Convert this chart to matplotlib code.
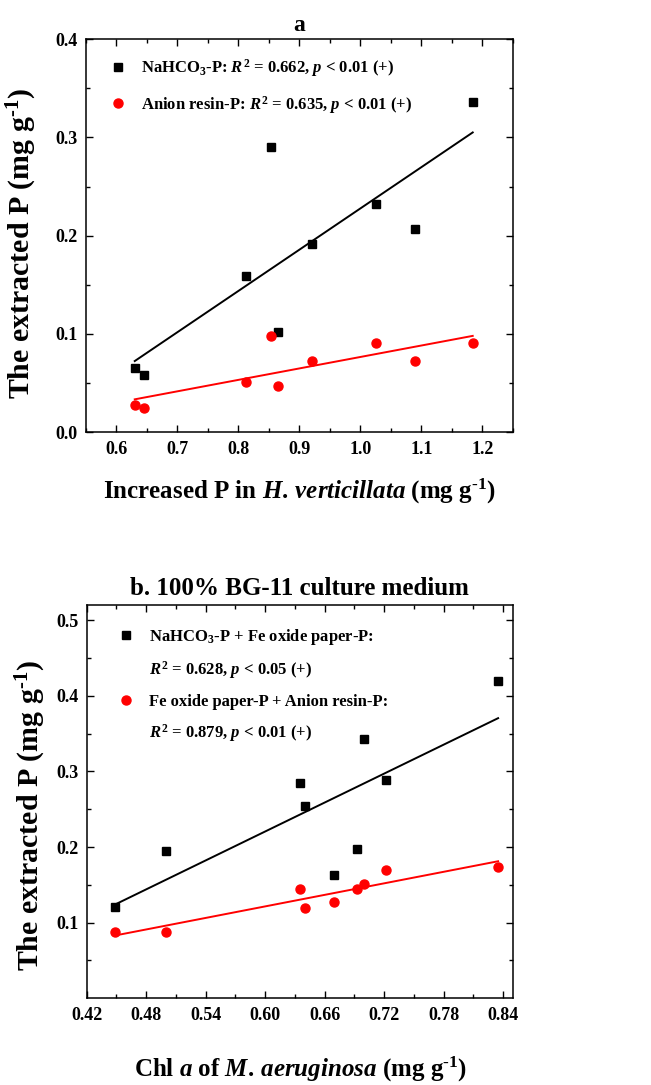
import matplotlib
matplotlib.use("Agg")
import matplotlib.pyplot as plt
from matplotlib.lines import Line2D
from matplotlib.ticker import AutoMinorLocator, FixedLocator, FormatStrFormatter
import numpy as np

plt.rcParams['font.family'] = 'Liberation Serif'
plt.rcParams['font.weight'] = 'bold'
plt.rcParams['axes.labelweight'] = 'bold'
plt.rcParams['axes.titleweight'] = 'bold'
plt.rcParams['mathtext.fontset'] = 'custom'
plt.rcParams['mathtext.rm'] = 'Liberation Serif:bold'
plt.rcParams['mathtext.it'] = 'Liberation Serif:italic:bold'
plt.rcParams['mathtext.bf'] = 'Liberation Serif:bold'

# panel a: increased P in H. verticillata vs extracted P
p_plant = [0.630, 0.646, 0.812, 0.853, 0.865, 0.921, 1.026, 1.089, 1.184]
nahco3_p = [0.065, 0.058, 0.159, 0.290, 0.102, 0.192, 0.232, 0.207, 0.336]
resin_p = [0.028, 0.025, 0.051, 0.098, 0.047, 0.072, 0.091, 0.073, 0.091]
xticks_a = [0.6, 0.7, 0.8, 0.9, 1.0, 1.1, 1.2]
yticks_a = [0.0, 0.1, 0.2, 0.3, 0.4]

# panel b: Chl a of M. aeruginosa vs extracted P
chl_a = [0.449, 0.500, 0.635, 0.640, 0.669, 0.693, 0.700, 0.722, 0.835]
nahco3_fe_p = [0.121, 0.195, 0.285, 0.254, 0.163, 0.198, 0.343, 0.289, 0.419]
fe_resin_p = [0.088, 0.088, 0.144, 0.120, 0.127, 0.144, 0.151, 0.170, 0.174]
xticks_b = [0.42, 0.48, 0.54, 0.60, 0.66, 0.72, 0.78, 0.84]
yticks_b = [0.1, 0.2, 0.3, 0.4, 0.5]
yminor_b = [0.05, 0.15, 0.25, 0.35, 0.45]

UNIT = r'(mg g$^{\text{-1}}$)'

fig = plt.figure(figsize=(6.51, 10.85), dpi=100)
ax_a = fig.add_axes([0.132, 0.6016, 0.656, 0.3624])
ax_b = fig.add_axes([0.133, 0.0799, 0.655, 0.3625])


def fit_line(ax, x, y, color):
    k, b = np.polyfit(x, y, 1)
    xs = np.array([min(x), max(x)])
    ax.plot(xs, k * xs + b, color=color, lw=1.4, zorder=2)


def style_axes(ax):
    for sp in ax.spines.values():
        sp.set_linewidth(1.1)
    ax.tick_params(which='both', direction='in', top=True, right=True, width=1.0,
                   labelsize=13, pad=6)
    ax.tick_params(which='major', length=5)
    ax.tick_params(which='minor', length=3)


# ---- panel a
fit_line(ax_a, p_plant, nahco3_p, 'black')
fit_line(ax_a, p_plant, resin_p, 'red')
h1, = ax_a.plot(p_plant, nahco3_p, 's', color='black', ms=5.5, zorder=3)
h2, = ax_a.plot(p_plant, resin_p, 'o', color='red', ms=6.5, zorder=3)
ax_a.set_xlim(0.55, 1.25)
ax_a.set_ylim(0.0, 0.4)
ax_a.set_xticks(xticks_a)
ax_a.set_yticks(yticks_a)
ax_a.xaxis.set_minor_locator(AutoMinorLocator(2))
ax_a.yaxis.set_minor_locator(AutoMinorLocator(2))
ax_a.xaxis.set_major_formatter(FormatStrFormatter('%.1f'))
ax_a.yaxis.set_major_formatter(FormatStrFormatter('%.1f'))
style_axes(ax_a)
ax_a.set_title('a', fontsize=17, pad=6)
ax_a.set_xlabel(r'Increased P in $\mathit{H.\,verticillata}$ ' + UNIT, fontsize=18)
ax_a.set_ylabel('The extracted P ' + UNIT, fontsize=21.5)
ax_a.xaxis.set_label_coords(0.5, -0.113)
ax_a.yaxis.set_label_coords(-0.11, 0.479)
ax_a.legend([h1, h2],
            [r'NaHCO$_3$-P: $R^2$ = 0.662, $p$ < 0.01 (+)',
             r'Anion resin-P: $R^2$ = 0.635, $p$ < 0.01 (+)'],
            loc='upper left', bbox_to_anchor=(0.055, 0.955), frameon=False,
            fontsize=12, handlelength=1.0, handletextpad=0.92, borderpad=0,
            borderaxespad=0, labelspacing=0.9, numpoints=1)

# ---- panel b
fit_line(ax_b, chl_a, nahco3_fe_p, 'black')
fit_line(ax_b, chl_a, fe_resin_p, 'red')
g1, = ax_b.plot(chl_a, nahco3_fe_p, 's', color='black', ms=5.5, zorder=3)
g2, = ax_b.plot(chl_a, fe_resin_p, 'o', color='red', ms=6.5, zorder=3)
ax_b.set_xlim(0.42, 0.85)
ax_b.set_ylim(0.0, 0.52)
ax_b.set_xticks(xticks_b)
ax_b.set_yticks(yticks_b)
ax_b.xaxis.set_minor_locator(AutoMinorLocator(2))
ax_b.yaxis.set_minor_locator(FixedLocator(yminor_b))
ax_b.xaxis.set_major_formatter(FormatStrFormatter('%.2f'))
ax_b.yaxis.set_major_formatter(FormatStrFormatter('%.1f'))
style_axes(ax_b)
ax_b.set_title('b. 100% BG-11 culture medium', fontsize=18, pad=7)
ax_b.set_xlabel(r'Chl $\mathit{a}$ of $\mathit{M.\,aeruginosa}$ ' + UNIT, fontsize=18)
ax_b.set_ylabel('The extracted P ' + UNIT, fontsize=21.5)
ax_b.xaxis.set_label_coords(0.503, -0.143)
ax_b.yaxis.set_label_coords(-0.09, 0.466)
blank = Line2D([], [], linestyle='none')
ax_b.legend([g1, blank, g2, blank],
            [r'NaHCO$_3$-P + Fe oxide paper-P:',
             r'$R^2$ = 0.628, $p$ < 0.05 (+)',
             r'Fe oxide paper-P + Anion resin-P:',
             r'$R^2$ = 0.879, $p$ < 0.01 (+)'],
            loc='upper left', bbox_to_anchor=(0.073, 0.945), frameon=False,
            fontsize=12, handlelength=1.0, handletextpad=0.88, borderpad=0,
            borderaxespad=0, labelspacing=0.76, numpoints=1)

fig.savefig('out.png', dpi=100)
